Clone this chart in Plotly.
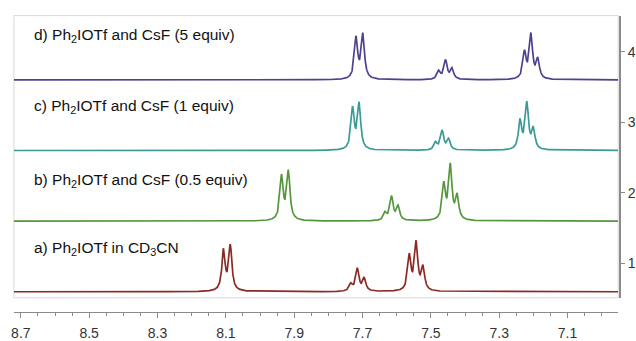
import numpy as np
import plotly.graph_objects as go

# ---- data ----
trace_labels = ["a) Ph<sub>2</sub>IOTf in CD<sub>3</sub>CN",
                "b) Ph<sub>2</sub>IOTf and CsF (0.5 equiv)",
                "c) Ph<sub>2</sub>IOTf and CsF (1 equiv)",
                "d) Ph<sub>2</sub>IOTf and CsF (5 equiv)"]
trace_colors = ["#8a2a25", "#56963f", "#3b9a96", "#4f4190"]
offsets = [0.60, 1.60, 2.60, 3.60]

# peak positions (ppm) and observed peak heights (stack units)
peaks_a_ppm = [8.107, 8.087, 7.734, 7.715, 7.695, 7.563, 7.543, 7.523, 7.896, 7.876]
peaks_a_h   = [0.615, 0.675, 0.13, 0.34, 0.21, 0.545, 0.73, 0.385, 0.012, 0.012]
peaks_b_ppm = [7.937, 7.917, 7.634, 7.615, 7.596, 7.462, 7.443, 7.423, 7.731, 7.712]
peaks_b_h   = [0.665, 0.73, 0.14, 0.36, 0.23, 0.565, 0.825, 0.40, 0.015, 0.015]
peaks_c_ppm = [7.729, 7.710, 7.486, 7.467, 7.448, 7.239, 7.219, 7.200]
peaks_c_h   = [0.63, 0.69, 0.13, 0.29, 0.175, 0.455, 0.70, 0.345]
peaks_d_ppm = [7.719, 7.699, 7.477, 7.457, 7.438, 7.226, 7.207, 7.187]
peaks_d_h   = [0.625, 0.67, 0.14, 0.29, 0.175, 0.425, 0.67, 0.325]

x_tick_vals = [8.7, 8.5, 8.3, 8.1, 7.9, 7.7, 7.5, 7.3, 7.1]
y_tick_vals = [1, 2, 3, 4]

peak_sets = [(peaks_a_ppm, peaks_a_h), (peaks_b_ppm, peaks_b_h),
             (peaks_c_ppm, peaks_c_h), (peaks_d_ppm, peaks_d_h)]

GAMMA = 0.0056
X_LEFT, X_RIGHT = 8.7203, 6.952
grid = np.linspace(X_RIGHT, X_LEFT, 4000)


def spectrum(ppm, heights):
    p = np.array(ppm)
    h = np.array(heights)
    M = 1.0 / (1.0 + ((p[:, None] - p[None, :]) / GAMMA) ** 2)
    amp = np.linalg.solve(M, h)
    L = 1.0 / (1.0 + ((grid[:, None] - p[None, :]) / GAMMA) ** 2)
    return L @ amp


fig = go.Figure()
for (ppm, hts), col, off in zip(peak_sets, trace_colors, offsets):
    fig.add_trace(go.Scatter(x=grid, y=off + spectrum(ppm, hts), mode="lines",
                             line=dict(color=col, width=1.7), hoverinfo="skip",
                             showlegend=False))

W, H = 636, 341
label_y = [254, 185, 109, 36]
for txt, yy in zip(trace_labels, label_y):
    fig.add_annotation(text=txt, xref="paper", yref="paper", x=29 / W, y=1 - yy / H,
                       xanchor="left", yanchor="middle", showarrow=False,
                       font=dict(family="Liberation Sans, Arial", size=15.5, color="#111111"))

fig.add_shape(type="rect", xref="x domain", yref="y domain", x0=0, y0=0, x1=1, y1=1,
              line=dict(color="#d9d9d9", width=1), layer="below")

fig.update_layout(
    width=W, height=H, margin=dict(l=0, r=0, t=0, b=0),
    plot_bgcolor="white", paper_bgcolor="white",
    font=dict(family="Liberation Sans, Arial", size=13, color="#333333"),
    xaxis=dict(domain=[11 / W, 620 / W], range=[X_LEFT, X_RIGHT],
               anchor="free", position=(H - 320) / H,
               showline=True, linecolor="#8a8a8a", linewidth=1,
               showgrid=False, zeroline=False,
               tickmode="array", tickvals=x_tick_vals, tickformat=".1f",
               ticks="outside", ticklen=5, tickcolor="#8a8a8a",
               ticklabelstandoff=3,
               minor=dict(tickmode="linear", tick0=7.0, dtick=0.05,
                          ticks="outside", ticklen=3, tickcolor="#8a8a8a", showgrid=False),
               tickfont=dict(size=14, color="#333333")),
    yaxis=dict(domain=[(H - 305) / H, (H - 16) / H], range=[0.514, 4.51],
               side="right", anchor="free", position=622 / W,
               showline=True, linecolor="#8a8a8a", linewidth=1.5,
               showgrid=False, zeroline=False,
               tickmode="array", tickvals=y_tick_vals,
               ticks="outside", ticklen=4, tickcolor="#8a8a8a",
               tickfont=dict(size=14, color="#333333")),
)

fig.write_html("out.html", config={"displayModeBar": False},
               post_script="document.body.style.margin='0';document.body.style.overflow='hidden';")
